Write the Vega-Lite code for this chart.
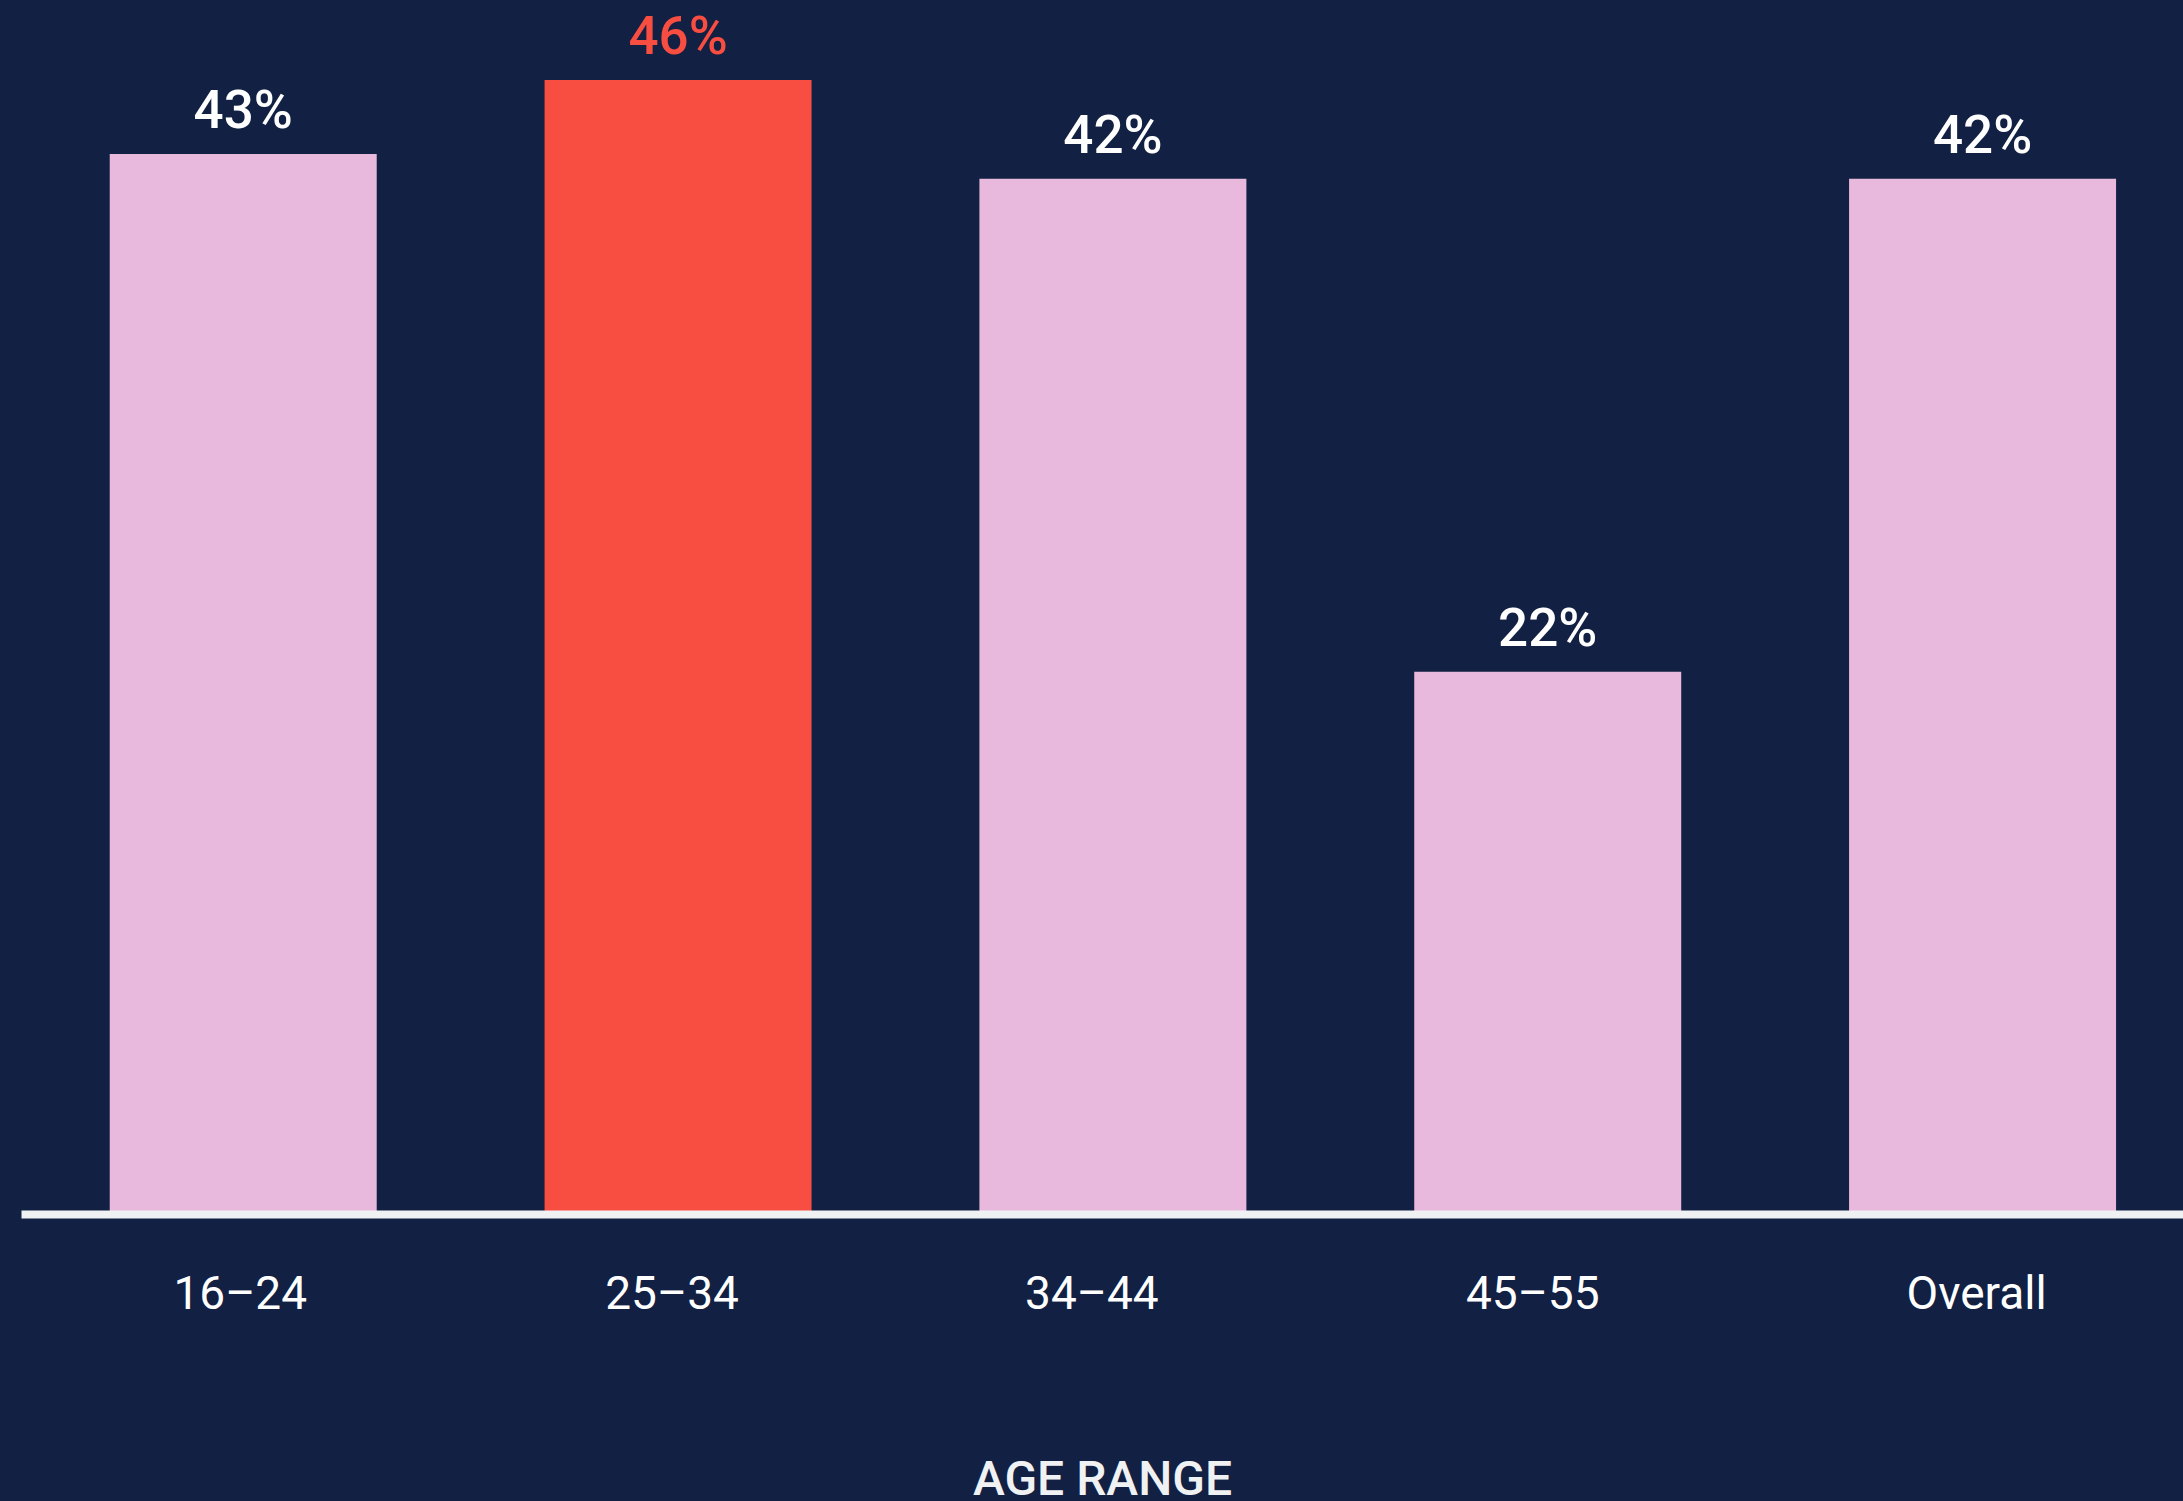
{
  "$schema": "https://vega.github.io/schema/vega-lite/v6.json",
  "autosize": {"type": "none"},
  "padding": {"left": 21, "top": 0, "right": 0, "bottom": 287},
  "width": 2162,
  "height": 1214,
  "background": "#112043",
  "config": {
    "view": {"stroke": null},
    "font": "Roboto"
  },
  "data": {
    "values": [
      {"age": "16–24", "share": 0.43, "highlight": "no"},
      {"age": "25–34", "share": 0.46, "highlight": "yes"},
      {"age": "34–44", "share": 0.42, "highlight": "no"},
      {"age": "45–55", "share": 0.22, "highlight": "no"},
      {"age": "Overall", "share": 0.42, "highlight": "no"}
    ]
  },
  "encoding": {
    "x": {
      "field": "age",
      "type": "nominal",
      "sort": null,
      "scale": {"paddingInner": 0.386, "paddingOuter": 0.179, "align": 0.57},
      "axis": {
        "title": "AGE RANGE",
        "labelAngle": 0,
        "labelFont": "Roboto",
        "labelFontSize": 46,
        "labelColor": "#FFFFFF",
        "labelBaseline": "alphabetic",
        "labelPadding": 94,
        "labelOffset": {
          "condition": [
            {"test": "datum.value === '34–44'", "value": -21},
            {"test": "datum.value === '45–55'", "value": -15},
            {"test": "datum.value === '16–24'", "value": -3}
          ],
          "value": -6
        },
        "ticks": false,
        "tickSize": 0,
        "domainColor": "#F0F1F3",
        "domainWidth": 8,
        "zindex": 1,
        "titleFont": "Roboto",
        "titleFontSize": 48,
        "titleFontWeight": 500,
        "titleColor": "#F0F1F3",
        "titleBaseline": "alphabetic",
        "titleX": 1081,
        "titleY": 280,
        "titleAlign": "center",
        "titleAnchor": "middle"
      }
    },
    "y": {
      "field": "share",
      "type": "quantitative",
      "scale": {"domain": [0, 0.4925], "nice": false, "zero": true},
      "axis": null
    }
  },
  "layer": [
    {
      "mark": {"type": "bar"},
      "encoding": {
        "color": {
          "field": "highlight",
          "type": "nominal",
          "scale": {"domain": ["no", "yes"], "range": ["#E8B9DC", "#F84D41"]},
          "legend": null
        }
      }
    },
    {
      "mark": {"type": "text", "baseline": "alphabetic", "dy": -26, "font": "Roboto", "fontSize": 53, "fontWeight": 500},
      "encoding": {
        "text": {"field": "share", "type": "quantitative", "format": ".0%"},
        "color": {
          "field": "highlight",
          "type": "nominal",
          "scale": {"domain": ["no", "yes"], "range": ["#FFFFFF", "#F84D41"]},
          "legend": null
        }
      }
    }
  ],
  "resolve": {"scale": {"color": "independent"}}
}
